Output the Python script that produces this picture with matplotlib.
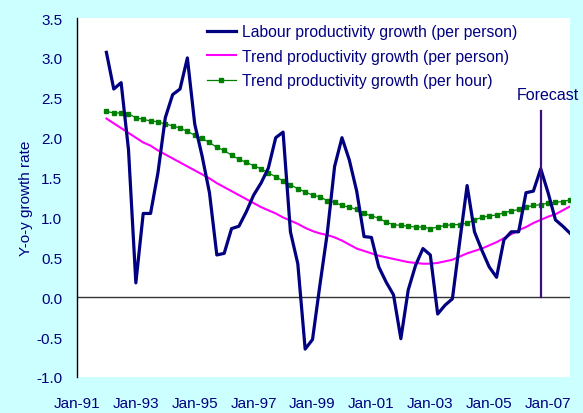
import numpy as np
import matplotlib.pyplot as plt
from matplotlib.ticker import FormatStrFormatter

plt.rcParams['font.family'] = ['Liberation Sans', 'DejaVu Sans']

# quarterly, 1992Q1 .. 2007Q4 (plotted at start of quarter)
quarters = 1992 + np.arange(64) * 0.25

labour = [3.07, 2.61, 2.69, 1.85, 0.18, 1.05, 1.05, 1.56,
          2.25, 2.54, 2.61, 3.00, 2.17, 1.77, 1.31, 0.53,
          0.55, 0.86, 0.89, 1.07, 1.28, 1.43, 1.62, 2.00,
          2.07, 0.82, 0.42, -0.65, -0.53, 0.15, 0.80, 1.64,
          2.00, 1.72, 1.33, 0.76, 0.75, 0.38, 0.19, 0.03,
          -0.52, 0.09, 0.40, 0.61, 0.53, -0.21, -0.10, -0.02,
          0.70, 1.40, 0.82, 0.59, 0.38, 0.25, 0.72, 0.82,
          0.82, 1.31, 1.33, 1.61, 1.31, 0.97, 0.89, 0.80]

trend_person = [2.24, 2.18, 2.12, 2.06, 2.00, 1.94, 1.90, 1.84,
                1.79, 1.74, 1.69, 1.64, 1.59, 1.54, 1.49, 1.43,
                1.38, 1.33, 1.28, 1.23, 1.18, 1.13, 1.09, 1.05,
                1.00, 0.96, 0.92, 0.87, 0.83, 0.80, 0.78, 0.75,
                0.71, 0.66, 0.61, 0.58, 0.55, 0.52, 0.50, 0.48,
                0.46, 0.44, 0.43, 0.42, 0.42, 0.43, 0.45, 0.47,
                0.51, 0.55, 0.58, 0.61, 0.65, 0.69, 0.74, 0.79,
                0.84, 0.88, 0.93, 0.97, 1.01, 1.04, 1.09, 1.14]

trend_hour = [2.33, 2.31, 2.31, 2.30, 2.25, 2.23, 2.21, 2.20,
              2.17, 2.15, 2.12, 2.08, 2.03, 1.99, 1.94, 1.88,
              1.84, 1.78, 1.73, 1.69, 1.65, 1.61, 1.56, 1.51,
              1.46, 1.41, 1.36, 1.32, 1.28, 1.26, 1.21, 1.19,
              1.15, 1.13, 1.10, 1.05, 1.02, 0.99, 0.94, 0.91,
              0.90, 0.89, 0.88, 0.88, 0.86, 0.88, 0.90, 0.91,
              0.91, 0.93, 0.97, 1.00, 1.02, 1.03, 1.06, 1.08,
              1.10, 1.13, 1.15, 1.16, 1.18, 1.19, 1.20, 1.22]

tick_years = list(range(1991, 2008, 2))
tick_labels = ['Jan-%02d' % (y % 100) for y in tick_years]
forecast_at = 2006.75

navy = '#000080'
fs = 11
fig = plt.figure(figsize=(5.83, 4.14), dpi=100, facecolor='#CCFFFF')
ax = fig.add_axes([0.132, 0.087, 0.846, 0.867])
ax.set_facecolor('white')

ax.plot(quarters, labour, color=navy, lw=2.3, label='Labour productivity growth (per person)', zorder=4)
ax.plot(quarters, trend_person, color='#FF00FF', lw=1.5, label='Trend productivity growth (per person)', zorder=3)
ax.plot(quarters, trend_hour, color='#008000', lw=0.9, marker='s', ms=3.2,
        label='Trend productivity growth (per hour)', zorder=3)

ax.axhline(0, color='#333333', lw=1, zorder=2)
ax.plot([forecast_at, forecast_at], [0, 2.33], color='#3A0F80', lw=1.6, zorder=5)
ax.text(2007.0, 2.54, 'Forecast', color=navy, fontsize=11.5, ha='center', va='center', clip_on=False)

ax.set_xlim(1991, 2007.75)
ax.set_ylim(-1, 3.5)
ax.set_yticks(np.arange(-1, 3.51, 0.5))
ax.yaxis.set_major_formatter(FormatStrFormatter('%.1f'))
ax.set_xticks(tick_years)
ax.set_xticklabels(tick_labels)
ax.tick_params(axis='y', length=0, pad=10.5, labelsize=fs, labelcolor=navy)
ax.tick_params(axis='x', length=0, pad=14, labelsize=fs, labelcolor=navy)
ax.set_ylabel('Y-o-y growth rate', color=navy, fontsize=fs, labelpad=2.5)

for s in ['top', 'right', 'bottom']:
    ax.spines[s].set_visible(False)
ax.spines['left'].set_color('black')
ax.spines['left'].set_linewidth(1)

ax.legend(loc='upper left', bbox_to_anchor=(0.25, 1.0), frameon=False, fontsize=11.3,
          handlelength=1.9, handletextpad=0.35, labelspacing=0.6, borderpad=0.4,
          labelcolor=navy, borderaxespad=0)

fig.savefig('out.png', dpi=100, facecolor=fig.get_facecolor())
